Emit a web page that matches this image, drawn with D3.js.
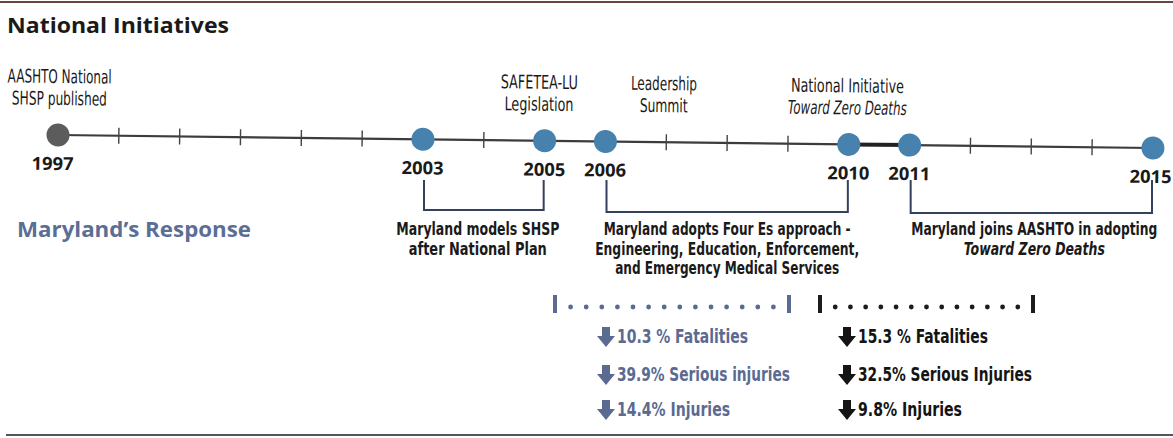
<!DOCTYPE html>
<html>
<head>
<meta charset="utf-8">
<script src="https://d3js.org/d3.v7.min.js"></script>
<style>
  body { margin: 0; background: #fff; }
  svg text { font-family: "DejaVu Sans Condensed", "Liberation Sans Narrow", "Open Sans", sans-serif; fill: #1a1a1a; }
  .title { font-family: "Open Sans", sans-serif; font-weight: 700; }
  .year { font-family: "Open Sans", sans-serif; font-weight: 700; font-size: 18px; }
  .event { font-size: 19px; }
  .resp { font-size: 18.5px; font-weight: 700; }
  .stat { font-size: 20px; font-weight: 700; }
</style>
</head>
<body>
<script>
// timeline data
var milestoneYears = [1997, 2003, 2005, 2006, 2010, 2011, 2015];
var eventYears = [1997, 2005, 2007, 2010];
var eventLines = [
  ["AASHTO National", "SHSP published"],
  ["SAFETEA-LU", "Legislation"],
  ["Leadership", "Summit"],
  ["National Initiative", "Toward Zero Deaths"]
];
var eventItalic = [false, false, false, true]; // second line italic?

// Maryland's response brackets
var respStart = [2003, 2006, 2011];
var respEnd = [2005, 2010, 2015];
var respLines = [
  ["Maryland models SHSP", "after National Plan"],
  ["Maryland adopts Four Es approach -", "Engineering, Education, Enforcement,", "and Emergency Medical Services"],
  ["Maryland joins AASHTO in adopting", "Toward Zero Deaths"]
];

// outcomes
var leftPct = ["10.3 %", "39.9%", "14.4%"];
var leftLabel = ["Fatalities", "Serious injuries", "Injuries"];
var rightPct = ["15.3 %", "32.5%", "9.8%"];
var rightLabel = ["Fatalities", "Serious Injuries", "Injuries"];

// layout only: fitted text widths / nudges
var eventW = [[104, 95], [77, 69], [66, 48], [113, 119]];
var eventDx = [1, -6, -3, -2];
var respW = [[163, 138], [247, 264, 224], [246, 141]];
var respDx = [-6, 0, 3];
var leftW = [131, 173, 113];
var rightW = [130, 174, 104];

var W = 1173, H = 438;
var svg = d3.select("body").append("svg").attr("width", W).attr("height", H);

var x = d3.scaleLinear().domain([1997, 2015]).range([58, 1153]);

// top and bottom rules
svg.append("line").attr("x1", 0).attr("x2", W).attr("y1", 2).attr("y2", 2)
   .attr("stroke", "#6a4448").attr("stroke-width", 2);
svg.append("line").attr("x1", 6).attr("x2", W).attr("y1", 435).attr("y2", 435)
   .attr("stroke", "#555").attr("stroke-width", 2);

svg.append("text").attr("class", "title").attr("x", 7).attr("y", 33)
   .attr("font-size", 22).attr("textLength", 222).attr("lengthAdjust", "spacingAndGlyphs")
   .text("National Initiatives");

// the timeline (slightly tilted like the scan)
var tl = svg.append("g").attr("transform", "translate(0,135) rotate(0.68,58,0)");

tl.append("line").attr("x1", x(1997)).attr("x2", x(2015)).attr("y1", 0).attr("y2", 0)
  .attr("stroke", "#3c3c3c").attr("stroke-width", 2.2);
tl.append("line").attr("x1", x(2010)).attr("x2", x(2011)).attr("y1", 0).attr("y2", 0)
  .attr("stroke", "#222").attr("stroke-width", 4);

var tickYears = d3.range(1997, 2016).filter(function(y) { return milestoneYears.indexOf(y) < 0; });
tl.selectAll(".tk").data(tickYears).enter().append("line")
  .attr("x1", function(d) { return x(d); }).attr("x2", function(d) { return x(d); })
  .attr("y1", -8).attr("y2", 8).attr("stroke", "#444").attr("stroke-width", 1.4);

tl.selectAll("circle").data(milestoneYears).enter().append("circle")
  .attr("cx", function(d) { return x(d); }).attr("cy", 0).attr("r", 11.5)
  .attr("fill", function(d) { return d == 1997 ? "#5c5c5c" : "#4682ad"; });

tl.selectAll(".year").data(milestoneYears).enter().append("text")
  .attr("class", "year").attr("text-anchor", "middle")
  .attr("x", function(d) { return x(d) + (d == 1997 ? -5 : d == 2015 ? -2 : 0); })
  .attr("y", 35)
  .attr("textLength", 42).attr("lengthAdjust", "spacingAndGlyphs")
  .text(function(d) { return d; });

var ev = tl.selectAll(".ev").data(eventYears).enter().append("g")
  .attr("transform", function(d) { return "translate(" + x(d) + ",0)"; });
ev.each(function(d, i) {
  var g = d3.select(this);
  eventLines[i].forEach(function(s, j) {
    var t = g.append("text").attr("class", "event").attr("text-anchor", "middle")
      .attr("x", eventDx[i])
      .attr("y", j == 0 ? -52 : -30)
      .attr("textLength", eventW[i][j]).attr("lengthAdjust", "spacingAndGlyphs")
      .text(s);
    if (j == 1 && eventItalic[i]) t.attr("font-style", "italic");
  });
});

// Maryland's response
svg.append("text").attr("class", "title").attr("x", 17).attr("y", 237)
   .attr("font-size", 21).style("fill", "#5a6e96")
   .attr("textLength", 234).attr("lengthAdjust", "spacingAndGlyphs")
   .text("Maryland\u2019s Response");

var bracketY = [210, 212, 213];
respStart.forEach(function(s, i) {
  var x0 = x(s) + 1, x1 = x(respEnd[i]) - 1, by = bracketY[i];
  svg.append("path")
    .attr("d", "M" + x0 + ",180V" + by + "H" + x1 + "V180")
    .attr("fill", "none").attr("stroke", "#34415e").attr("stroke-width", 2);
  var cx = (x0 + x1) / 2 + respDx[i];
  respLines[i].forEach(function(line, j) {
    var t = svg.append("text").attr("class", "resp").attr("text-anchor", "middle")
      .attr("x", cx).attr("y", 235 + j * 19.5)
      .attr("textLength", respW[i][j]).attr("lengthAdjust", "spacingAndGlyphs")
      .text(line);
    if (i == 2 && j == 1) t.attr("font-style", "italic");
  });
});

// dotted outcome brackets
function dotted(xa, xb, n, col) {
  svg.append("rect").attr("x", xa - 2).attr("y", 295).attr("width", 4).attr("height", 18).attr("fill", col);
  svg.append("rect").attr("x", xb - 2).attr("y", 295).attr("width", 4).attr("height", 18).attr("fill", col);
  var step = (xb - xa) / (n + 1);
  svg.selectAll(null).data(d3.range(1, n + 1)).enter().append("circle")
    .attr("cx", function(k) { return xa + k * step; }).attr("cy", 307).attr("r", 2.4)
    .attr("fill", col);
}
dotted(555, 789, 14, "#5b6a90");
dotted(820, 1033, 13, "#1c1c1c");

function arrow(ax, ay, col) {
  // thick down arrow, 18 wide, 20 tall, top at ay
  svg.append("path")
    .attr("d", "M" + (ax + 5) + "," + ay + "h8v9h5l-9,11l-9,-11h5z")
    .attr("fill", col);
}

var rowY = [343, 381, 416];
function statColumn(pcts, labels, widths, ax, col) {
  pcts.forEach(function(p, i) {
    arrow(ax, rowY[i] - 16, col);
    svg.append("text").attr("class", "stat").attr("x", ax + 20).attr("y", rowY[i])
      .attr("textLength", widths[i]).attr("lengthAdjust", "spacingAndGlyphs")
      .style("fill", col).text(p + " " + labels[i]);
  });
}
statColumn(leftPct, leftLabel, leftW, 597, "#5b6a90");
statColumn(rightPct, rightLabel, rightW, 838, "#141414");
</script>
</body>
</html>
